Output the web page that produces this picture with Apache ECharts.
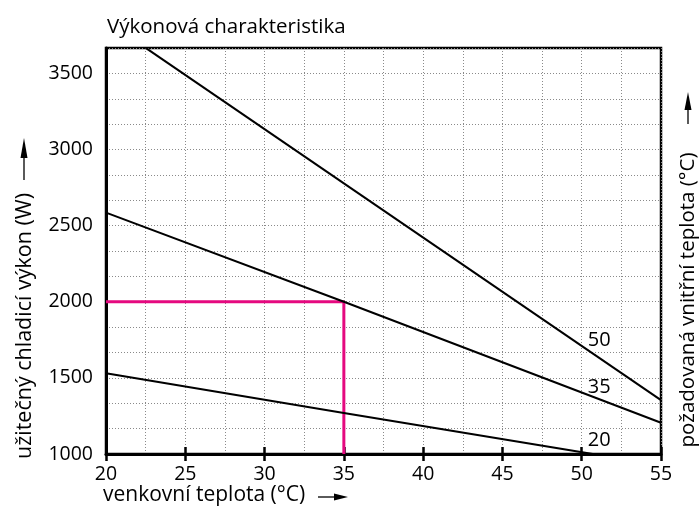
<!DOCTYPE html>
<html>
<head>
<meta charset="utf-8">
<script src="https://cdn.jsdelivr.net/npm/echarts@6/dist/echarts.min.js"></script>
<style>
  html, body { margin: 0; padding: 0; background: #fff; }
  #chart { width: 699px; height: 518px; }
</style>
</head>
<body>
<div id="chart"></div>
<script>
// Cooling capacity vs. outdoor temperature for three indoor set-points
const titleText = 'Výkonová charakteristika';
const xName = 'venkovní teplota (°C)';
const yName = 'užitečný chladicí výkon (W)';
const rightName = 'požadovaná vnitřní teplota (°C)';

// each curve: [outdoor °C, capacity W]
const curve50 = [[22.5, 3667], [55, 1354]];
const curve35 = [[20, 2585], [35, 2000], [55, 1205]];
const curve20 = [[20, 1530], [35, 1270], [50.7, 1000]];
const curveNames = ['50', '35', '20'];

// operating point guide
const opPoint = [35, 2000];

// curve captions (anchor positions in data units)
const captionX = [51.1, 51.1, 51.1];
const captionY = [1750, 1440, 1092];

const xMin = 20, xMax = 55, xStep = 5;
const yMin = 1000, yStep = 500, yGridStep = 500 / 3, yMax = 1000 + 16 * (500 / 3);

const FONT = '"Open Sans", "Noto Sans", sans-serif';
const chart = echarts.init(document.getElementById('chart'), null, { renderer: 'canvas' });

const dotted = { color: '#8a8a8a', width: 1, type: [1, 2] };

const curveSeries = [curve50, curve35, curve20].map((d, i) => ({
  name: curveNames[i],
  type: 'line',
  data: d,
  symbol: 'none',
  lineStyle: { color: '#000', width: 2 },
  z: 3,
  silent: true
}));

const captionSeries = {
  type: 'scatter',
  data: captionX.map((x, i) => [x, captionY[i], curveNames[i]]),
  symbolSize: 0,
  silent: true,
  itemStyle: { opacity: 1 },
  label: {
    show: true,
    position: 'inside',
    formatter: p => p.value[2],
    color: '#000',
    textBorderWidth: 0,
    fontSize: 20,
    fontFamily: FONT
  },
  z: 4
};

const guideSeries = {
  type: 'line',
  data: [[xMin, opPoint[1]], opPoint, [opPoint[0], yMin]],
  symbol: 'none',
  lineStyle: { color: '#e5097f', width: 3 },
  z: 2,
  silent: true
};

function arrowUp(cx, tipY, baseY, lineEnd) {
  return [
    { type: 'line', shape: { x1: cx, y1: baseY, x2: cx, y2: lineEnd }, style: { stroke: '#000', lineWidth: 1.3 } },
    { type: 'polygon', shape: { points: [[cx, tipY], [cx - 3.5, baseY], [cx + 3.5, baseY]] }, style: { fill: '#000' } }
  ];
}

chart.setOption({
  animation: false,
  title: {
    text: titleText,
    left: 102,
    top: 12,
    textStyle: { fontSize: 20.5, fontWeight: 'normal', color: '#000', fontFamily: FONT }
  },
  grid: {
    left: 106, right: 38, top: 48, bottom: 64,
    show: true, borderColor: '#000', borderWidth: 2.5, backgroundColor: 'transparent'
  },
  xAxis: [{
    type: 'value',
    min: xMin, max: xMax, interval: xStep,
    axisLine: { show: true, lineStyle: { color: '#000', width: 3 } },
    axisTick: { show: true, length: 7, lineStyle: { color: '#000', width: 2.5 } },
    minorTick: { show: false, splitNumber: 2 },
    axisLabel: { color: '#000', fontSize: 19.5, fontFamily: FONT, margin: 10 },
    splitLine: { show: true, lineStyle: dotted },
    minorSplitLine: { show: true, lineStyle: dotted }
  }, {
    type: 'value',
    position: 'bottom',
    min: xMin, max: xMax, interval: xStep,
    axisLine: { show: false },
    axisTick: { show: true, inside: true, length: 7, lineStyle: { color: '#000', width: 2.5 } },
    axisLabel: { show: false },
    splitLine: { show: false }
  }],
  yAxis: {
    type: 'value',
    min: yMin, max: yMax, interval: yGridStep,
    axisLine: { show: true, lineStyle: { color: '#000', width: 3 } },
    axisTick: { show: false },
    axisLabel: {
      color: '#000', fontSize: 19.5, fontFamily: FONT, margin: 13,
      formatter: v => {
        const k = (v - yMin) / yStep;
        return Math.abs(k - Math.round(k)) < 1e-6 && v < yMax - 1 ? String(Math.round(v)) : '';
      }
    },
    splitLine: { show: true, lineStyle: dotted }
  },
  series: [guideSeries, ...curveSeries, captionSeries],
  graphic: [
    { type: 'text', left: 103, top: 485, style: { text: xName, fill: '#000', font: '21px ' + FONT } },
    { type: 'line', shape: { x1: 318, y1: 497, x2: 336, y2: 497 }, style: { stroke: '#000', lineWidth: 1.3 } },
    { type: 'polygon', shape: { points: [[348, 497], [334, 493.5], [334, 500.5]] }, style: { fill: '#000' } },
    {
      type: 'text', x: 25, y: 326, rotation: Math.PI / 2,
      style: { text: yName, fill: '#000', font: '21.5px ' + FONT, textAlign: 'center', textVerticalAlign: 'middle' }
    },
    ...arrowUp(24, 138, 158, 180),
    {
      type: 'text', x: 688, y: 300, rotation: Math.PI / 2,
      style: { text: rightName, fill: '#000', font: '20.5px ' + FONT, textAlign: 'center', textVerticalAlign: 'middle' }
    },
    ...arrowUp(688, 92, 110, 124)
  ]
});
</script>
</body>
</html>
